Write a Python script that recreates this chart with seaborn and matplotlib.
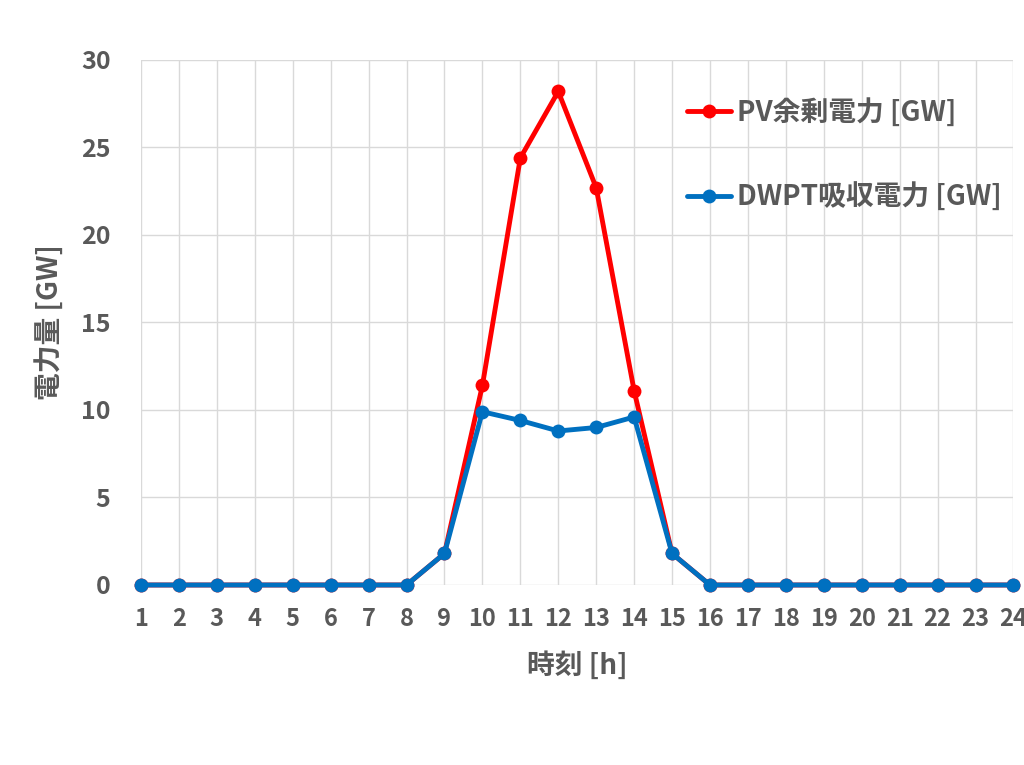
import matplotlib
matplotlib.use("Agg")
import matplotlib.pyplot as plt
import seaborn as sns
import pandas as pd

hours = list(range(1, 25))
pv = [0,0,0,0,0,0,0,0,1.8,11.4,24.4,28.2,22.7,11.1,1.8,0,0,0,0,0,0,0,0,0]
dwpt = [0,0,0,0,0,0,0,0,1.8,9.9,9.4,8.8,9.0,9.6,1.8,0,0,0,0,0,0,0,0,0]
labels = ["PV余剰電力 [GW]", "DWPT吸収電力 [GW]"]

sns.set_style("white")
plt.rcParams['font.family'] = ['Noto Sans CJK JP', 'DejaVu Sans']
grey = "#595959"

fig = plt.figure(figsize=(10.24, 7.65), dpi=100)
ax = fig.add_axes([0.1377, 0.2353, 0.852, 0.6863])
ax.plot(hours, pv, color="#FF0000", lw=3.5, marker="o", ms=10, label=labels[0], clip_on=False, zorder=3)
sns.lineplot(x=hours, y=dwpt, ax=ax, color="#0070C0", lw=3.5, marker="o", markersize=10,
             markeredgewidth=0, label=labels[1], clip_on=False, zorder=4)
ax.lines[0].set_markeredgewidth(0)
ax.set_xlim(1, 24)
ax.set_ylim(0, 30)
ax.set_xticks(hours)
ax.set_yticks(range(0, 31, 5))
ax.grid(True, color="#D9D9D9", lw=1)
for s in ax.spines.values():
    s.set_visible(False)
ax.tick_params(axis="x", length=0, labelsize=17, labelcolor=grey, pad=16)
ax.tick_params(axis="y", length=0, labelsize=18, labelcolor=grey, pad=22)
for t in ax.get_xticklabels() + ax.get_yticklabels():
    t.set_fontweight("bold")
ax.set_xlabel("時刻 [h]", fontsize=20, fontweight="bold", color=grey, labelpad=14)
ax.set_ylabel("電力量 [GW]", fontsize=20, fontweight="bold", color=grey, labelpad=12)
leg = ax.legend(loc="upper right", bbox_to_anchor=(1.015, 0.975), frameon=False,
                prop={"size": 20, "weight": "bold"}, labelspacing=2.0,
                handlelength=1.6, handletextpad=0.2)
for t in leg.get_texts():
    t.set_color(grey)
fig.savefig("out.png", dpi=100)
